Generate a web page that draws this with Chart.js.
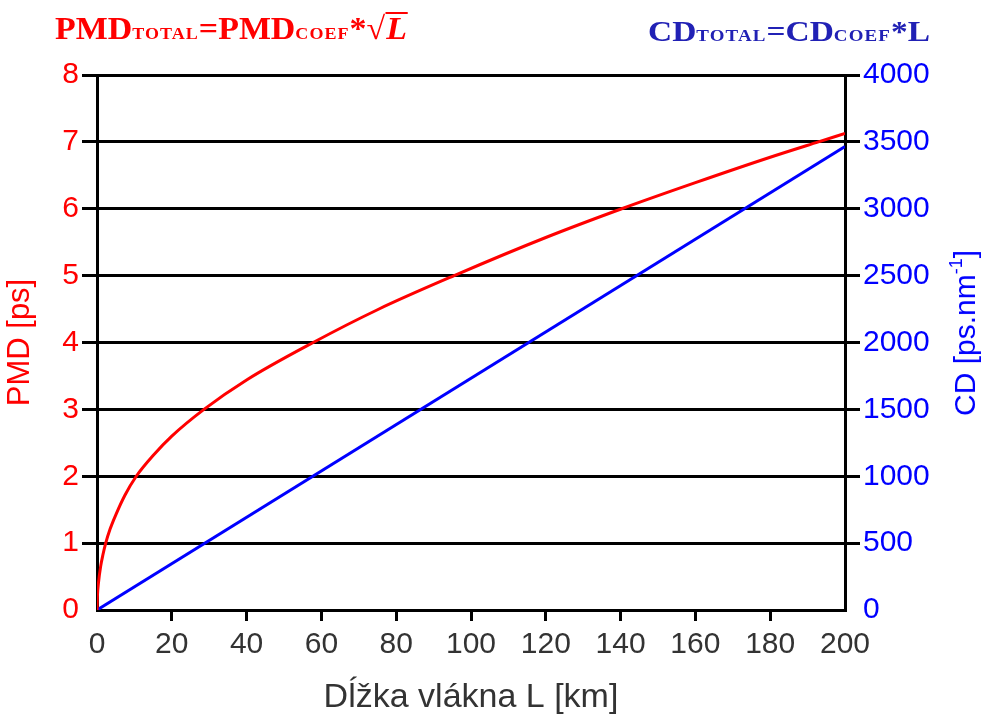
<!DOCTYPE html>
<html>
<head>
<meta charset="utf-8">
<script src="https://cdn.jsdelivr.net/npm/chart.js@4.4.1/dist/chart.umd.min.js"></script>
<style>
  html, body { margin: 0; padding: 0; background: #fff; }
  #wrap { position: relative; width: 984px; height: 715px; }
  canvas { position: absolute; left: 0; top: 0; }
  .ttl { position: absolute; font-family: "Liberation Serif", "Times New Roman", serif; font-weight: bold; white-space: nowrap; transform-origin: 0 0; line-height: 1; }
  #tl { left: 55px; top: 12px; color: #ff0000; font-size: 32px; }
  #tr { left: 648px; top: 16px; color: #2121b5; font-size: 30px; }
  .sm { font-size: 17px; letter-spacing: 1px; }
  .ov { font-style: italic; border-top: 2px solid #ff0000; padding: 0 1px; display: inline-block; line-height: 0.9; }
  #ytr { position: absolute; left: 965px; top: 333px; transform: translate(-50%, -50%) rotate(-90deg);
         font-family: "Liberation Sans", Arial, sans-serif; font-size: 30px; color: #0000ff; white-space: nowrap; line-height: 1; }
  #ytr sup { font-size: 18px; vertical-align: 0; position: relative; top: -13px; }
</style>
</head>
<body>
<div id="wrap">
  <canvas id="c" width="984" height="715"></canvas>
  <div class="ttl" id="tl">PMD<span class="sm">TOTAL</span>=PMD<span class="sm">COEF</span>*√<span class="ov">L</span></div>
  <div class="ttl" id="tr">CD<span class="sm">TOTAL</span>=CD<span class="sm">COEF</span>*L</div>
  <div id="ytr">CD [ps.nm<sup>-1</sup>]</div>
</div>
<script>
// Fiber length L [km] and values
const pmdLengthKm = [0, 0.1, 0.4, 1, 1.6, 2.33, 3.5, 5, 7.5, 10.5, 15, 20, 28.6, 40, 57.8, 75, 95.5, 120, 140.3, 160, 180, 192.9, 200];
const pmdValues   = [0, 0.2, 0.41, 0.66, 0.83, 1, 1.21, 1.42, 1.72, 2, 2.31, 2.6, 3, 3.44, 4, 4.49, 5, 5.57, 6, 6.39, 6.77, 7, 7.125];
const cdLengthKm  = [0, 200];
const cdValues    = [0, 3465];

const xTitle = "Dĺžka vlákna L [km]";
const yLeftTitle = "PMD [ps]";

const pmdData = pmdLengthKm.map((x, i) => ({ x: x, y: pmdValues[i] }));
const cdData = cdLengthKm.map((x, i) => ({ x: x, y: cdValues[i] }));

const font = "'Liberation Sans', Arial, sans-serif";

new Chart(document.getElementById('c'), {
  type: 'line',
  data: {
    datasets: [
      { label: 'PMD', data: pmdData, yAxisID: 'yL', borderColor: '#ff0000', borderWidth: 3,
        pointRadius: 0, cubicInterpolationMode: 'monotone', fill: false },
      { label: 'CD', data: cdData, yAxisID: 'yR', borderColor: '#0000ff', borderWidth: 3,
        pointRadius: 0, fill: false }
    ]
  },
  options: {
    responsive: false,
    devicePixelRatio: 1,
    animation: false,
    layout: { padding: { top: 75, left: 0, right: 0, bottom: 0 } },
    plugins: { legend: { display: false }, tooltip: { enabled: false } },
    scales: {
      x: {
        type: 'linear', min: 0, max: 200,
        afterFit: s => { s.height = 105; },
        ticks: { stepSize: 20, color: '#333333', font: { family: font, size: 30 }, padding: 6, maxRotation: 0 },
        grid: { drawOnChartArea: false, drawTicks: true, tickLength: 11, lineWidth: 3,
          color: ctx => (ctx.tick && (ctx.tick.value === 0 || ctx.tick.value === 200)) ? 'rgba(0,0,0,0)' : '#000' },
        border: { display: true, color: '#000', width: 3 },
        title: { display: true, text: xTitle, color: '#333333', font: { family: font, size: 34, lineHeight: 1 }, padding: { top: 0, bottom: 0 } }
      },
      yL: {
        type: 'linear', position: 'left', min: 0, max: 8,
        afterFit: s => { s.width = 97; },
        ticks: { stepSize: 1, color: '#ff0000', font: { family: font, size: 30 }, padding: 3 },
        grid: { drawOnChartArea: true, drawTicks: true, tickLength: 15, lineWidth: 3,
          color: ctx => (ctx.tick && ctx.tick.value === 0) ? 'rgba(0,0,0,0)' : '#000' },
        border: { display: true, color: '#000', width: 3 },
        title: { display: true, text: yLeftTitle, color: '#ff0000', font: { family: font, size: 31 }, padding: { top: 2, bottom: 0 } }
      },
      yR: {
        type: 'linear', position: 'right', min: 0, max: 4000,
        afterFit: s => { s.width = 139; },
        ticks: { stepSize: 500, color: '#0000ff', font: { family: font, size: 30 }, padding: 3,
          callback: v => String(v) },
        grid: { drawOnChartArea: false, drawTicks: true, tickLength: 15, lineWidth: 3,
          color: ctx => (ctx.tick && ctx.tick.value === 0) ? 'rgba(0,0,0,0)' : '#000' },
        border: { display: true, color: '#000', width: 3 },
        title: { display: false }
      }
    }
  }
});

// stretch the header formulas to the reference widths
function fit(id, w) {
  const el = document.getElementById(id);
  const nat = el.getBoundingClientRect().width;
  el.style.transform = 'scaleX(' + (w / nat) + ')';
}
fit('tl', 353);
fit('tr', 282);
</script>
</body>
</html>
